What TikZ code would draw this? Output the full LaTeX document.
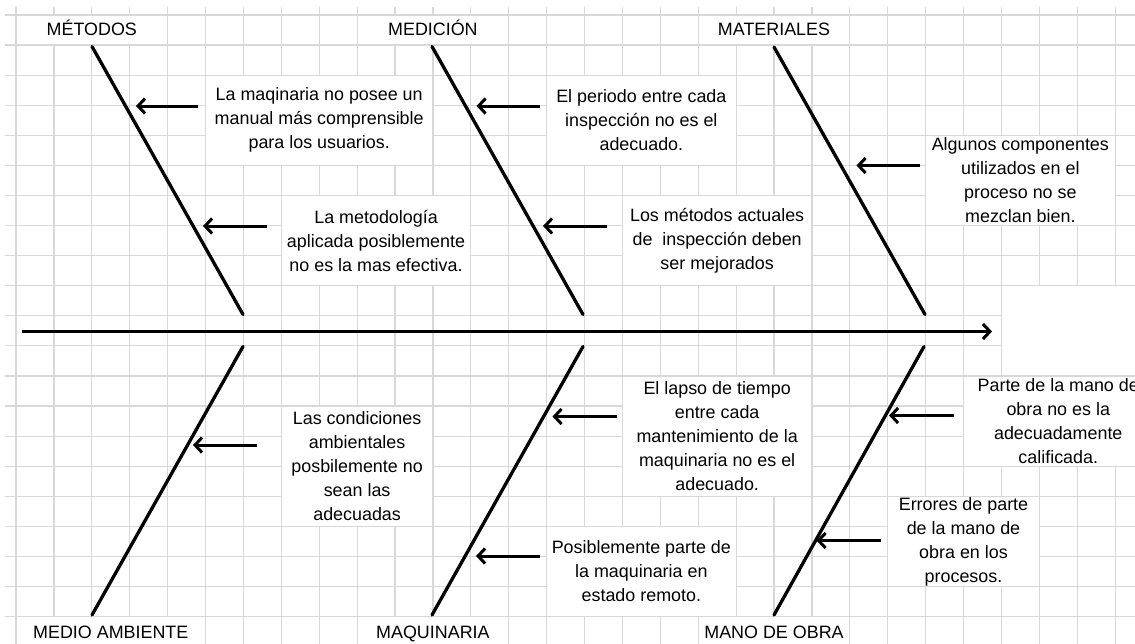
\documentclass[tikz,border=0pt]{standalone}
\usepackage{fontspec}
\setmainfont{Liberation Sans}
\usetikzlibrary{arrows.meta}
\definecolor{gridc}{RGB}{216,216,216}
\newcommand\gridbox[7][]{%
  \pgfmathsetmacro\gxa{16+37.9*#3}\pgfmathsetmacro\gxb{16+37.9*#4}%
  \pgfmathsetmacro\gya{15+30.08*#5}\pgfmathsetmacro\gyb{15+30.08*#6}%
  \pgfmathsetmacro\gw{\gxb-\gxa}\pgfmathsetmacro\gh{\gyb-\gya}%
  \pgfmathsetmacro\gcx{(\gxa+\gxb)/2}\pgfmathsetmacro\gcy{(\gya+\gyb)/2}%
  \node[cellbox, minimum width=\gw pt, minimum height=\gh pt, #1] (#2) at (\gcx,\gcy) {#7};}
\tikzset{
  cellbox/.style={rectangle, fill=white, draw=gridc, line width=1.2pt, inner sep=0pt, align=center, text=black, font=\fontsize{17.9}{24}\selectfont},
  labelbox/.style={text height=12.8pt, text depth=0pt},
  gridline/.style={draw=gridc, line width=1.2pt},
  bone/.style={line width=3.3pt, line cap=round},
  causearrow/.style={line width=3pt, -{Straight Barb[length=7pt, width=15pt, line width=3pt]}},
}
\begin{document}
\begin{tikzpicture}[x=1pt, y=-1pt]
\useasboundingbox (0,0) rectangle (1135,643);
\clip (0,0) rectangle (1135,643);
\fill[white] (0,0) rectangle (1135,643);
% grid
\begin{scope}
  \clip (5,7) rectangle (1135,643);
  \foreach \k in {0,...,30} { \draw[gridline] ({16+37.9*\k},0) -- ({16+37.9*\k},650); }
  \foreach \j in {0,...,21} { \draw[gridline] (0,{15+30.08*\j}) -- (1140,{15+30.08*\j}); }
\end{scope}
% labels
\gridbox[labelbox, text depth=2.6pt]{metodos}{0}{4}{0}{1}{MÉTODOS}
\gridbox[labelbox, text depth=2.6pt]{medicion}{9}{13}{0}{1}{MEDICIÓN}
\gridbox[labelbox, text depth=2.6pt]{materiales}{18}{22}{0}{1}{MATERIALES}
\gridbox[labelbox]{medio}{0}{5}{20}{21}{MEDIO AMBIENTE}
\gridbox[labelbox]{maquinaria}{9}{13}{20}{21}{MAQUINARIA}
\gridbox[labelbox]{manoobra}{18}{22}{20}{21}{MANO DE OBRA}
% cause boxes
\gridbox{ca}{5}{11}{2}{5}{La maqinaria no posee un\\manual más comprensible\\para los usuarios.}
\gridbox{cb}{7}{12}{6}{9}{La metodología\\aplicada posiblemente\\no es la mas efectiva.}
\gridbox{cc}{14}{19}{2}{5}{El periodo entre cada\\inspección no es el\\adecuado.}
\gridbox{cd}{16}{21}{6}{9}{Los métodos actuales\\de\ \ inspección deben\\ser mejorados}
\gridbox{ce}{24}{29}{4}{7}{Algunos componentes\\utilizados en el\\proceso no se\\mezclan bien.}
\gridbox{head}{26}{30}{9}{12}{}
\gridbox{cf}{7}{11}{13}{17}{Las condiciones\\ambientales\\posbilemente no\\sean las\\adecuadas}
\gridbox{cg}{16}{21}{12}{16}{El lapso de tiempo\\entre cada\\mantenimiento de la\\maquinaria no es el\\adecuado.}
\gridbox{ch}{14}{19}{17}{20}{Posiblemente parte de\\la maquinaria en\\estado remoto.}
\gridbox{ci}{25}{30}{12}{15}{Parte de la mano de\\obra no es la\\adecuadamente\\calificada.}
\gridbox{cj}{23}{27}{16}{19}{Errores de parte\\de la mano de\\obra en los\\procesos.}
% spine
\coordinate (spineS) at (22,331.5);
\coordinate (spineE) at (992,331.5);
\draw[causearrow] (spineS) -- (spineE);
% bones
\coordinate (b1t) at (92,46.5);  \coordinate (b1b) at (243,314.5);
\coordinate (b2t) at (432,46.5); \coordinate (b2b) at (583,314.5);
\coordinate (b3t) at (774,47);   \coordinate (b3b) at (925,314.5);
\coordinate (b4t) at (243,346.5); \coordinate (b4b) at (92,615);
\coordinate (b5t) at (583,346.5); \coordinate (b5b) at (432,615);
\coordinate (b6t) at (924,346.5); \coordinate (b6b) at (774,615);
\draw[bone] (b1t) -- (b1b);
\draw[bone] (b2t) -- (b2b);
\draw[bone] (b3t) -- (b3b);
\draw[bone] (b4t) -- (b4b);
\draw[bone] (b5t) -- (b5b);
\draw[bone] (b6t) -- (b6b);
% cause arrows
\coordinate (a1s) at (198,106);   \coordinate (a1e) at (136,106);
\coordinate (a2s) at (267,226);   \coordinate (a2e) at (203,226);
\coordinate (a3s) at (540,106);   \coordinate (a3e) at (476.5,106);
\coordinate (a4s) at (607,226);   \coordinate (a4e) at (543,226);
\coordinate (a5s) at (920,165.5); \coordinate (a5e) at (856.5,165.5);
\coordinate (a6s) at (257,445);   \coordinate (a6e) at (193,445);
\coordinate (a7s) at (617,416.5); \coordinate (a7e) at (552.5,416.5);
\coordinate (a8s) at (540,556);   \coordinate (a8e) at (476,556);
\coordinate (a9s) at (953.5,415.5); \coordinate (a9e) at (889,415.5);
\coordinate (a10s) at (881,540.5); \coordinate (a10e) at (816.5,540.5);
\foreach \n in {1,...,10} { \draw[causearrow] (a\n s) -- (a\n e); }
\end{tikzpicture}
\end{document}
